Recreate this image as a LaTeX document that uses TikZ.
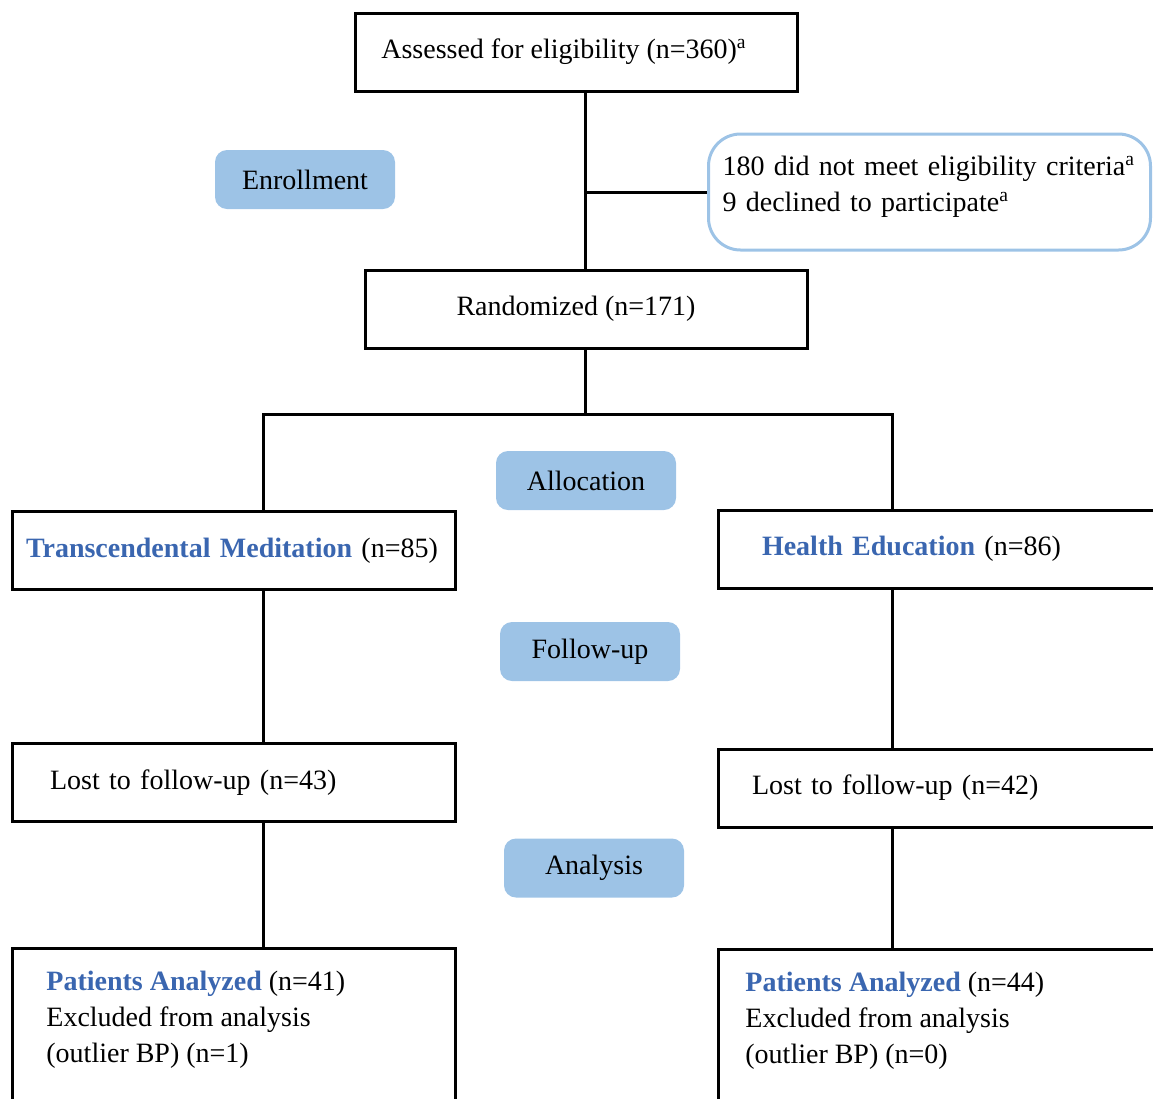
\documentclass[tikz,border=0pt]{standalone}
\usepackage{fontspec}
\setmainfont{Liberation Serif}
\usepackage{xcolor}
\usetikzlibrary{positioning,calc}
\definecolor{flowtagblue}{HTML}{9DC3E6}
\definecolor{flowtextblue}{HTML}{3A66B0}
\tikzset{
  flowbox/.style={
    draw=black,
    line width=1.5pt,
    fill=white,
    inner ysep=0pt,
    minimum height=39pt,
    font=\fontsize{14}{18}\selectfont
  },
  flowcenter/.style={flowbox,align=center,minimum width=221pt},
  flowleft/.style={flowbox,align=left},
  flowexcl/.style={draw=flowtagblue,line width=1.5pt,rounded corners=16pt,
                   align=left,inner xsep=7pt,text width=207pt,
                   minimum height=58pt,font=\fontsize{14}{18}\selectfont},
  flowtag/.style={fill=flowtagblue,rounded corners=6pt,minimum width=90pt,
                  minimum height=29.5pt,font=\fontsize{14}{18}\selectfont},
  flowtext/.style={anchor=north west,inner sep=0pt,align=left,
                   font=\fontsize{14}{18}\selectfont},
  flowline/.style={line width=1.5pt,black}
}
\newcommand{\armname}[1]{\textcolor{flowtextblue}{\textbf{#1}}}
\newcommand{\fnmark}{\textsuperscript{a}}

\begin{document}
\begin{tikzpicture}[x=0.5pt,y=-0.5pt]
  \useasboundingbox (0,0) rectangle (1153,1099);
  \clip (0,0) rectangle (1153,1099);

  % boxes
  \node[flowcenter] (elig) at (576,52) {Assessed for eligibility (n=360)\fnmark\hspace*{12pt}};
  \node[flowexcl] (excl) at (929.5,192)
    {180 did not meet eligibility criteria\fnmark\\9 declined to participate\fnmark\\[-10pt]\mbox{}};
  \node[flowcenter] (rand) at (586,309) {Randomized (n=171)\hspace*{10pt}};

  \node[flowleft,inner xsep=7pt,text width=207.5pt] (tm) at (233.5,550.5)
    {\armname{Transcendental Meditation} (n=85)};
  \node[flowleft,inner xsep=22pt,text width=182pt] (he) at (944,549)
    {\armname{Health Education} (n=86)};

  \node[flowleft,inner xsep=19pt,text width=183.5pt] (lostl) at (233.5,782.5)
    {Lost to follow-up (n=43)};
  \node[flowleft,inner xsep=17pt,text width=192pt] (lostr) at (944,788)
    {Lost to follow-up (n=42)};

  \node[flowbox,minimum width=221.5pt,minimum height=91pt] (pal) at (233.5,1039) {};
  \node[flowbox,minimum width=226pt,minimum height=91pt] (par) at (944,1040) {};
  \node[flowtext] (paltext) at (46,971)
    {\armname{Patients Analyzed} (n=41)\\Excluded from analysis\\(outlier BP) (n=1)};
  \node[flowtext] (partext) at (745,972)
    {\armname{Patients Analyzed} (n=44)\\Excluded from analysis\\(outlier BP) (n=0)};

  % stage tags
  \node[flowtag] (enroll) at (305,179.5) {Enrollment};
  \node[flowtag] (alloc) at (586,480.5) {Allocation};
  \node[flowtag] (follow) at (590,651.5) {Follow-up};
  \node[flowtag] (anal) at (594,868) {Analysis};

  % connectors
  \coordinate (split) at (585,414);
  \coordinate (lbr) at (263,414);
  \coordinate (rbr) at (892,414);

  \draw[flowline] (elig.south -| split) -- (rand.north -| split);
  \draw[flowline] (excl.west -| split) -- (excl.west);
  \draw[flowline] (rand.south -| split) -- (split);
  \draw[flowline] (lbr |- tm.north) -- (lbr) -- (rbr) -- (rbr |- he.north);
  \draw[flowline] (lbr |- tm.south) -- (lbr |- lostl.north);
  \draw[flowline] (rbr |- he.south) -- (rbr |- lostr.north);
  \draw[flowline] (lbr |- lostl.south) -- (lbr |- pal.north);
  \draw[flowline] (rbr |- lostr.south) -- (rbr |- par.north);
\end{tikzpicture}
\end{document}
